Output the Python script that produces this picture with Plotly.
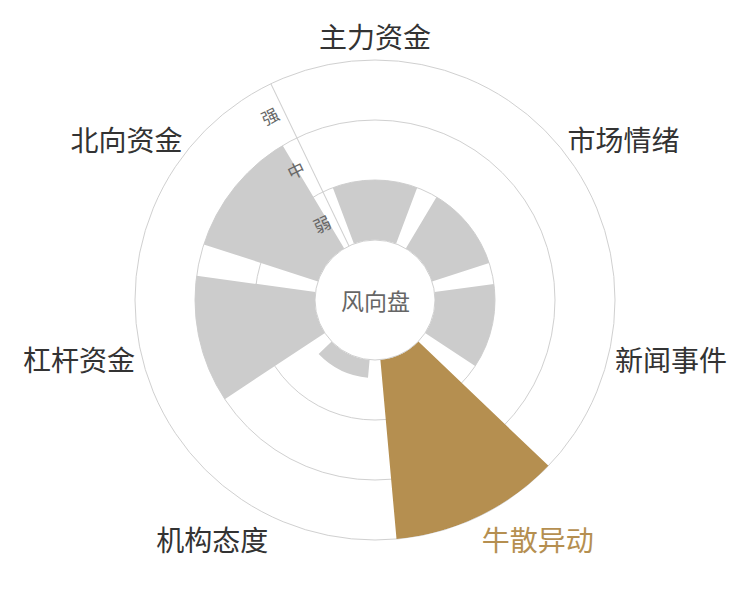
import plotly.graph_objects as go

categories = ["主力资金", "市场情绪", "新闻事件", "牛散异动", "机构态度", "杠杆资金", "北向资金"]
values = [1.0, 1.0, 1.0, 3.0, 0.3, 2.0, 2.0]
highlight = "牛散异动"
levels = ["弱", "中", "强"]
center_label = "风向盘"

GRAY = "#cccccc"
GOLD = "#b58f50"
FONT = "Noto Sans CJK SC"

colors = [GOLD if c == highlight else GRAY for c in categories]
ticktext = [f'<span style="color:{GOLD}">{c}</span>' if c == highlight else c for c in categories]
level_pos = [i + 0.5 for i in range(len(levels))]
grid_pos = list(range(len(levels) + 1))

fig = go.Figure()
# carrier trace for the grid subplot (zero-height, invisible)
fig.add_trace(go.Barpolar(
    r=[0] * len(categories), theta=categories, marker=dict(color="rgba(0,0,0,0)", line=dict(width=0)),
    subplot="polar", hoverinfo="skip", showlegend=False,
))
fig.add_trace(go.Barpolar(
    r=values, theta=categories, marker=dict(color=colors, line=dict(width=0)),
    subplot="polar2", hoverinfo="skip", showlegend=False,
))

n = len(categories)
radial_angle = 90 + 360 / (2 * n)

common_ang = dict(type="category", categoryorder="array", categoryarray=categories,
                  rotation=90, direction="clockwise")

fig.update_layout(
    width=750, height=600,
    margin=dict(l=52, r=68, t=52, b=68),
    paper_bgcolor="white",
    font=dict(family=FONT),
    polar=dict(
        domain=dict(x=[0, 1], y=[0, 1]),
        hole=0.25, bgcolor="white",
        radialaxis=dict(range=[0, len(levels)], tickvals=grid_pos, showticklabels=False,
                        ticks="", showline=False, gridcolor="#d0d0d0", gridwidth=1,
                        angle=radial_angle),
        angularaxis=dict(**common_ang, showgrid=False, showline=True, linecolor="#d0d0d0",
                         ticks="", tickvals=categories, ticktext=ticktext,
                         tickfont=dict(size=28, color="#333333", family=FONT)),
    ),
    polar2=dict(
        domain=dict(x=[0, 1], y=[0, 1]),
        hole=0.25, bgcolor="rgba(0,0,0,0)", bargap=0.2,
        radialaxis=dict(range=[0, len(levels)], tickvals=level_pos, ticktext=levels,
                        showgrid=False, ticks="", showline=True, linecolor="#d0d0d0",
                        angle=radial_angle, side="counterclockwise", tickangle=90,
                        tickfont=dict(size=17, color="#666666", family=FONT)),
        angularaxis=dict(**common_ang, showgrid=False, showline=False, showticklabels=False,
                         ticks=""),
    ),
    annotations=[dict(text=center_label, x=0.5, y=0.5, xref="paper", yref="paper",
                      showarrow=False, font=dict(size=23, color="#666666", family=FONT))],
)

fig.write_html("out.html")
